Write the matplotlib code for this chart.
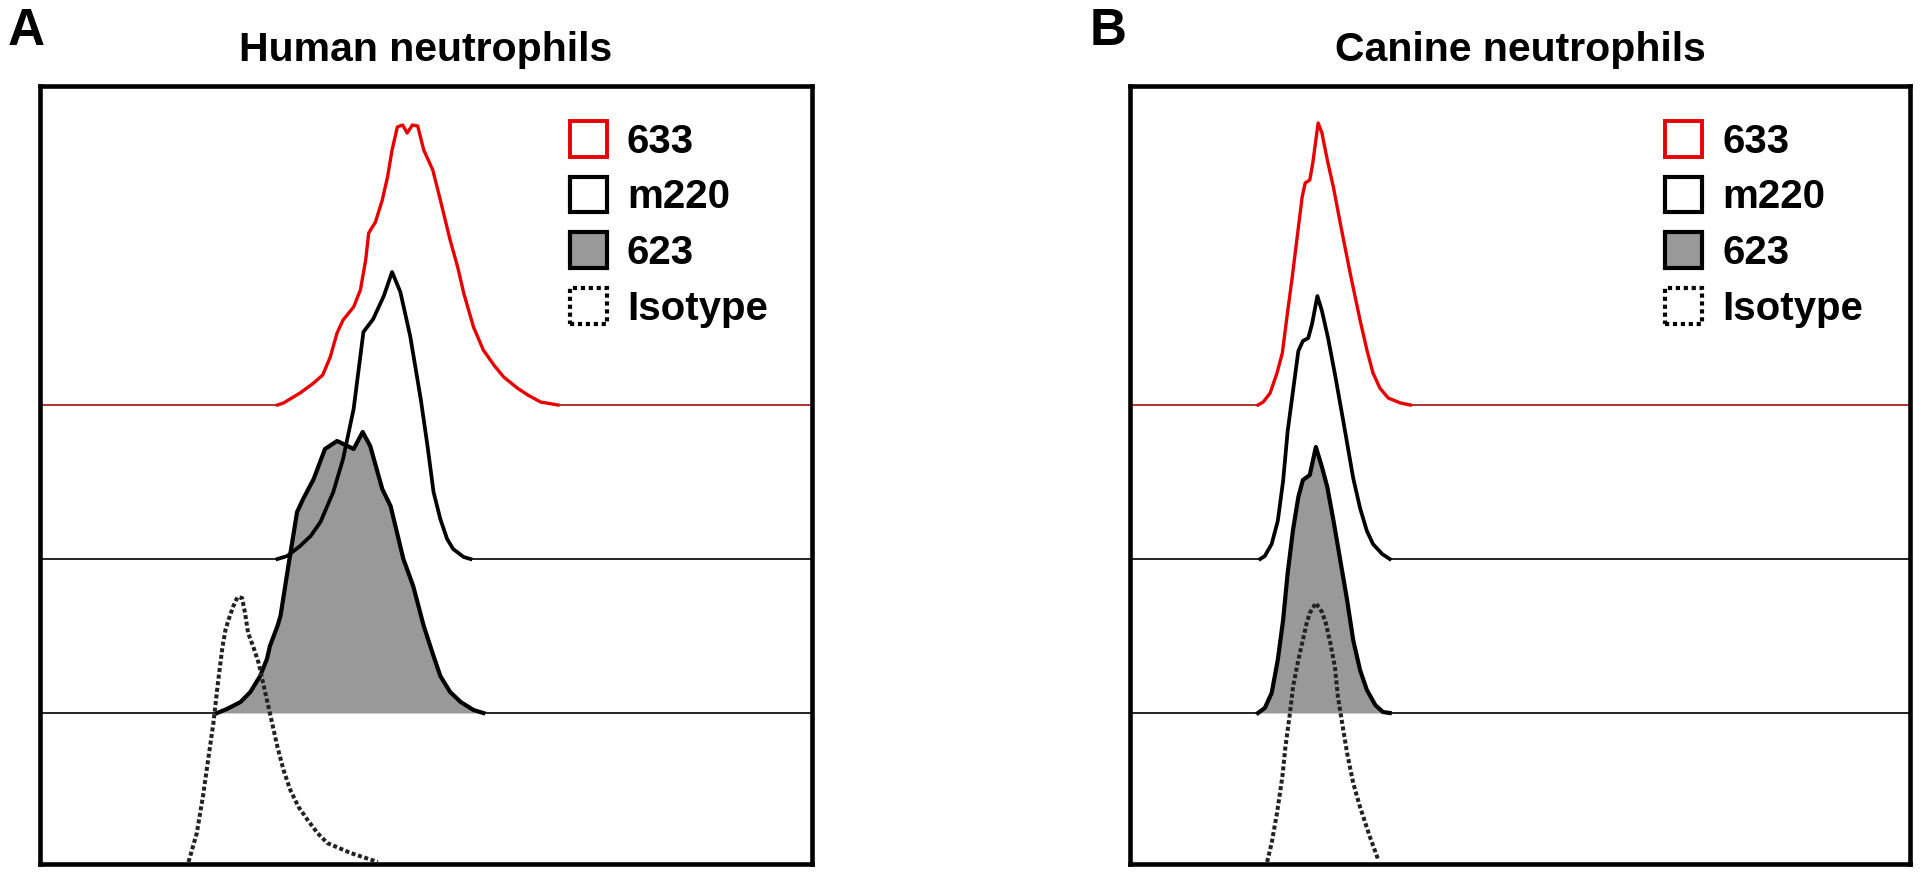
import matplotlib.pyplot as plt
from matplotlib.patches import Patch

plt.rcParams['font.family'] = ['Liberation Sans', 'DejaVu Sans']

# fluorescence channel (0-1024) and event counts
# Panel A: human neutrophils
a633_x = [315, 323, 345, 363, 375, 385, 394, 402, 416, 425, 432, 436, 445, 454, 461, 467, 474, 481, 487, 494, 501,
          509, 521, 531, 544, 554, 562, 575, 588, 602, 615, 633, 647, 664, 687]
a633_y = [0, 2, 12, 22, 30, 48, 72, 85, 98, 115, 145, 172, 183, 205, 228, 255, 278, 280, 272, 280, 279,
          255, 235, 205, 165, 138, 112, 78, 55, 40, 28, 17, 10, 3, 0]
a220_x = [315, 328, 345, 359, 372, 389, 402, 416, 429, 442, 456, 467, 478, 491, 505, 514, 522, 531, 540, 548, 562, 571]
a220_y = [0, 3, 13, 23, 37, 67, 100, 150, 227, 240, 263, 287, 267, 223, 160, 113, 67, 40, 20, 10, 2, 0]
a623_x = [235, 248, 266, 279, 292, 301, 305, 315, 319, 329, 341, 349, 363, 378, 394, 408, 416, 428, 438, 454, 465,
          482, 495, 509, 522, 531, 544, 558, 575, 588]
a623_y = [0, 4, 11, 21, 37, 54, 67, 87, 97, 145, 201, 214, 234, 264, 272, 267, 264, 281, 267, 224, 207,
          154, 127, 87, 57, 37, 21, 11, 3, 0]
aiso_x = [197, 208, 216, 223, 230, 236, 242, 246, 250, 256, 262, 268, 272, 276, 283, 290, 301, 315, 323, 332, 343,
          355, 368, 381, 412, 448]
aiso_y = [1, 30, 66, 103, 140, 180, 216, 233, 243, 256, 266, 265, 250, 230, 216, 200, 163, 116, 93, 73, 56,
          43, 30, 20, 10, 1]

# Panel B: canine neutrophils
b633_x = [168, 175, 184, 193, 200, 206, 213, 219, 226, 230, 236, 240, 244, 247, 252, 259, 267, 276, 289, 302, 311,
          319, 328, 339, 355, 368]
b633_y = [0, 3, 12, 32, 52, 88, 128, 165, 208, 222, 225, 242, 265, 282, 272, 245, 218, 182, 132, 85, 55,
          32, 17, 7, 2, 0]
b220_x = [171, 177, 186, 194, 201, 207, 214, 221, 227, 234, 239, 246, 252, 260, 269, 280, 293, 302, 311, 319, 331, 341]
b220_y = [0, 3, 15, 38, 78, 128, 168, 208, 218, 221, 235, 263, 248, 221, 185, 138, 81, 51, 28, 15, 5, 0]
b623_x = [168, 177, 186, 194, 201, 207, 214, 221, 227, 236, 244, 252, 259, 267, 276, 285, 293, 302, 311, 322, 332, 341]
b623_y = [0, 5, 20, 53, 93, 140, 183, 216, 233, 238, 266, 246, 226, 193, 153, 113, 73, 43, 23, 8, 1, 0]
biso_x = [180, 186, 193, 200, 204, 210, 214, 221, 226, 232, 236, 244, 252, 257, 263, 269, 273, 280, 285, 293, 302,
          315, 326]
biso_y = [1, 20, 50, 86, 116, 150, 176, 203, 220, 240, 250, 260, 251, 240, 220, 196, 166, 133, 110, 80, 56,
          26, 3]

# vertical offsets of the stacked histograms
offsets = {"633": 458, "m220": 304, "623": 150, "Isotype": 0}
labels = ["633", "m220", "623", "Isotype"]
titles = ["Human neutrophils", "Canine neutrophils"]
letters = ["A", "B"]

RED = "#e60000"
GRAY = "#999999"
DOTS = (0, (1.0, 0.65))


def draw_panel(ax, red, black, gray, iso):
    # red 633
    x, y = red
    off = offsets["633"]
    ax.plot([0, x[0]], [off, off], color="#a01010", lw=1.2, zorder=2)
    ax.plot([x[-1], 1024], [off, off], color="#a01010", lw=1.2, zorder=2)
    ax.plot(x, [v + off for v in y], color=RED, lw=2.4, zorder=3, solid_joinstyle="round")

    # filled 623
    x, y = gray
    off = offsets["623"]
    ax.plot([0, x[0]], [off, off], color="black", lw=1.2, zorder=2)
    ax.plot([x[-1], 1024], [off, off], color="black", lw=1.2, zorder=2)
    ax.fill_between(x, off, [v + off for v in y], color=GRAY, lw=0, zorder=1)
    ax.plot(x, [v + off for v in y], color="black", lw=3.0, zorder=2, solid_joinstyle="round")

    # open m220
    x, y = black
    off = offsets["m220"]
    ax.plot([0, x[0]], [off, off], color="black", lw=1.2, zorder=3)
    ax.plot([x[-1], 1024], [off, off], color="black", lw=1.2, zorder=3)
    ax.plot(x, [v + off for v in y], color="black", lw=2.7, zorder=3, solid_joinstyle="round")

    # isotype
    x, y = iso
    off = offsets["Isotype"]
    ax.plot(x, [v + off for v in y], color="#222222", lw=2.9, linestyle=DOTS, zorder=4)

    ax.set_xlim(0, 1024)
    ax.set_ylim(-1, 777)
    ax.set_xticks([])
    ax.set_yticks([])
    for s in ax.spines.values():
        s.set_linewidth(3.3)
        s.set_color("black")

    handles = [
        Patch(facecolor="white", edgecolor=RED, lw=2.8),
        Patch(facecolor="white", edgecolor="black", lw=3.0),
        Patch(facecolor=GRAY, edgecolor="black", lw=3.0),
        Patch(facecolor="white", edgecolor="black", lw=3.0, linestyle=(0, (1.0, 0.9))),
    ]
    leg = ax.legend(handles, labels, loc="upper left", bbox_to_anchor=(0.686, 0.955),
                    frameon=False, fontsize=29, handlelength=0.92, handleheight=0.98,
                    handletextpad=0.5, labelspacing=0.4, borderpad=0, borderaxespad=0)
    for t in leg.get_texts():
        t.set_fontweight("bold")


fig = plt.figure(figsize=(19.2, 8.73), dpi=100)
ax_a = fig.add_axes([40 / 1920, 9 / 873, 772 / 1920, 778 / 873])
ax_b = fig.add_axes([1130 / 1920, 9 / 873, 780 / 1920, 778 / 873])

draw_panel(ax_a, (a633_x, a633_y), (a220_x, a220_y), (a623_x, a623_y), (aiso_x, aiso_y))
draw_panel(ax_b, (b633_x, b633_y), (b220_x, b220_y), (b623_x, b623_y), (biso_x, biso_y))

for ax, t in zip([ax_a, ax_b], titles):
    ax.set_title(t, fontsize=29.5, fontweight="bold", pad=18)

fig.text(8 / 1920, 1 - 45 / 873, letters[0], fontsize=37, fontweight="bold", va="baseline")
fig.text(1090 / 1920, 1 - 45 / 873, letters[1], fontsize=37, fontweight="bold", va="baseline")

fig.savefig("out.png", dpi=100)
